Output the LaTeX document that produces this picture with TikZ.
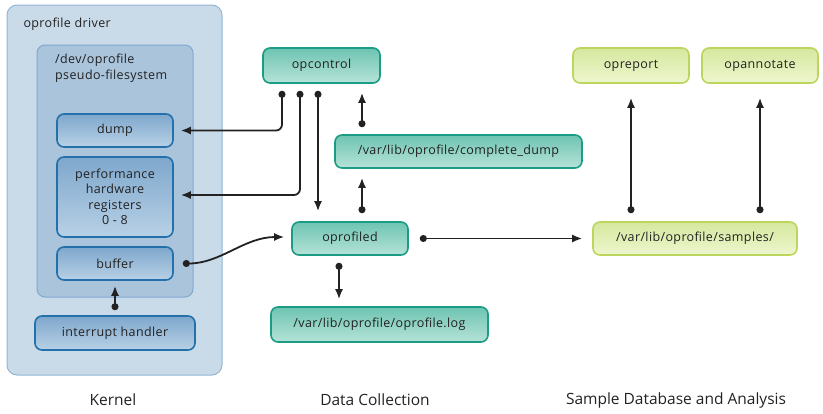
\documentclass[tikz,border=0pt]{standalone}
\usepackage{fontspec}
\setmainfont{Open Sans}
\newfontfamily\boxfont[LetterSpace=3]{Open Sans}
\usetikzlibrary{arrows.meta,positioning}
\definecolor{kernbg}{HTML}{C9DAE8}
\definecolor{kernbd}{HTML}{93B6D4}
\definecolor{fsbg}{HTML}{AAC4DC}
\definecolor{fsbd}{HTML}{7FA9CF}
\definecolor{bluetop}{HTML}{7EA7CC}
\definecolor{bluebot}{HTML}{B8D1E6}
\definecolor{bluebd}{HTML}{2370AB}
\definecolor{tealtop}{HTML}{6EC4B2}
\definecolor{tealbot}{HTML}{B6E3D8}
\definecolor{tealbd}{HTML}{1C9C84}
\definecolor{greentop}{HTML}{D5E89E}
\definecolor{greenbot}{HTML}{EEF6CE}
\definecolor{greenbd}{HTML}{BCD55C}
\definecolor{ink}{HTML}{222222}
\tikzset{
  box/.style={rounded corners=7pt, line width=1.6pt, align=center, text=ink,
    font=\boxfont\fontsize{12.5}{15.5}\selectfont, inner sep=0pt},
  kbox/.style={box, draw=bluebd, top color=bluetop, bottom color=bluebot},
  dbox/.style={box, draw=tealbd, top color=tealtop, bottom color=tealbot},
  sbox/.style={box, draw=greenbd, top color=greentop, bottom color=greenbot},
  link/.style={line width=1.8pt, rounded corners=6pt, draw=ink,
    arrows={Circle[length=7pt]-Latex[length=10pt,width=8pt]},
    shorten <=8pt, shorten >=7pt},
  caption/.style={text=ink, font=\fontsize{15.5}{18}\selectfont}
}
\begin{document}
\begin{tikzpicture}[x=1pt,y=-1pt]
    \useasboundingbox (0,0) rectangle (823,413);
    % kernel side
    \draw[kernbd, fill=kernbg, line width=1pt, rounded corners=10pt] (7,5) rectangle (222,375);
    \node[anchor=west, text=ink, font=\boxfont\fontsize{12.5}{15.5}\selectfont] (driver) at (20,24) {oprofile driver};
    \draw[fsbd, fill=fsbg, line width=1pt, rounded corners=8pt] (37,45) rectangle (193,297);
    \node[anchor=north west, align=left, inner sep=0pt, text=ink, font=\boxfont\fontsize{12.5}{16}\selectfont]
        (pseudofs) at (55,54) {/dev/oprofile\\pseudo-filesystem};
    \node[kbox, minimum width=116pt, minimum height=33pt] (dump) at (115,130.5) {dump};
    \node[kbox, minimum width=116pt, minimum height=80pt] (perf) at (115,197)
        {performance\\hardware\\registers\\0 - 8};
    \node[kbox, minimum width=116pt, minimum height=33pt] (buffer) at (115,263.5) {buffer};
    \node[kbox, minimum width=160pt, minimum height=34pt] (irq) at (115,333) {interrupt handler};
    % data collection
    \node[dbox, minimum width=117pt, minimum height=35pt] (opcontrol) at (321.5,65.5) {opcontrol};
    \node[dbox, minimum width=247pt, minimum height=33pt] (cdump) at (458.5,151.5) {/var/lib/oprofile/complete\_dump};
    \node[dbox, minimum width=116pt, minimum height=33pt] (oprofiled) at (350,238.5) {oprofiled};
    \node[dbox, minimum width=217pt, minimum height=35pt] (oplog) at (379.5,324.5) {/var/lib/oprofile/oprofile.log};
    % sample database and analysis
    \node[sbox, minimum width=116pt, minimum height=35pt] (opreport) at (631,65.5) {opreport};
    \node[sbox, minimum width=116pt, minimum height=35pt] (opannotate) at (760,65.5) {opannotate};
    \node[sbox, minimum width=204pt, minimum height=33pt] (samples) at (695,238.5) {/var/lib/oprofile/samples/};
    % connectors
    \draw[link, shorten <=7pt] ([xshift=-39.5pt]opcontrol.south) |- (dump.east);
    \draw[link, shorten <=7pt] ([xshift=-21.5pt]opcontrol.south) |- ([yshift=2pt]perf.east);
    \draw[link, shorten <=7pt, shorten >=10pt] ([xshift=-3.5pt]opcontrol.south) -- ([xshift=-3.5pt]opcontrol.south |- oprofiled.north);
    \draw[link, shorten <=7pt, shorten >=9pt] ([xshift=-96.5pt]cdump.north) -- ([xshift=-96.5pt]cdump.north |- opcontrol.south);
    \draw[link, shorten <=8pt, shorten >=9pt] ([xshift=12pt]oprofiled.north) -- ([xshift=12pt]oprofiled.north |- cdump.south);
    \draw[link, shorten <=7pt] ([xshift=-11pt]oprofiled.south) -- ([xshift=-11pt]oprofiled.south |- oplog.north);
    \draw[link, shorten <=11pt, shorten >=10pt] (oprofiled.east) -- (samples.west);
    \draw[link, shorten <=9pt] (buffer.east) to[out=0, in=180] ([yshift=1.5pt]oprofiled.west);
    \draw[link, shorten <=5pt, shorten >=5pt] (irq.north) -- (buffer.south);
    \draw[link, shorten <=8pt, shorten >=14pt] (samples.north -| opreport.south) -- (opreport.south);
    \draw[link, shorten <=8pt, shorten >=14pt] (samples.north -| opannotate.south) -- (opannotate.south);
    % captions
    \node[caption] (kernel) at (113,400) {Kernel};
    \node[caption] (collection) at (375,400) {Data Collection};
    \node[caption] (analysis) at (676,400) {Sample Database and Analysis};
\end{tikzpicture}
\end{document}
